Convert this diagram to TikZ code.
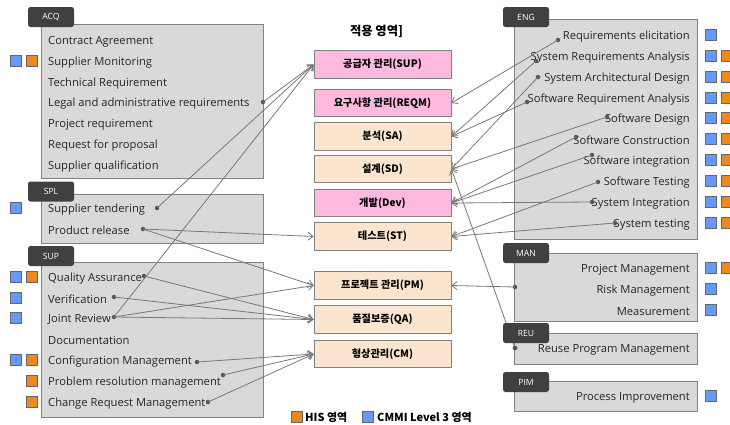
\documentclass[tikz,border=0pt]{standalone}
\usepackage{fontspec}
\setmainfont{Open Sans}
\newfontfamily\kr{Noto Sans CJK KR}
\usetikzlibrary{arrows.meta}
\definecolor{boxfill}{RGB}{217,217,217}
\definecolor{boxline}{RGB}{130,130,130}
\definecolor{tabfill}{RGB}{64,64,64}
\definecolor{pinkc}{RGB}{255,185,222}
\definecolor{peachc}{RGB}{252,229,206}
\definecolor{linec}{RGB}{120,120,120}
\definecolor{dotc}{RGB}{85,85,85}
\definecolor{bluec}{RGB}{102,153,255}
\definecolor{orangec}{RGB}{237,135,30}
\begin{document}
\begin{tikzpicture}[x=1pt,y=-1pt,
  grpbox/.style={draw=boxline,fill=boxfill,line width=0.9pt},
  tabbox/.style={fill=tabfill,rounded corners=2.5pt,text=white,font=\fontsize{8.6}{9}\selectfont,inner sep=0pt,minimum width=46pt,minimum height=20pt},
  litem/.style={anchor=west,inner sep=0pt,font=\fontsize{11.2}{13}\selectfont,text=black!85},
  ritem/.style={anchor=east,inner sep=0pt,font=\fontsize{11.2}{13}\selectfont,text=black!85},
  dotn/.style={circle,fill=dotc,inner sep=0pt,minimum size=4.5pt},
  cbox/.style={draw=boxline,line width=0.8pt,minimum width=137pt,minimum height=27.5pt,inner sep=0pt,font=\kr\bfseries\fontsize{10.2}{12}\selectfont},
  pinkbox/.style={cbox,fill=pinkc},
  peachbox/.style={cbox,fill=peachc},
  conn/.style={draw=linec,line width=0.8pt,-{Straight Barb[length=5pt,width=8pt]}},
  bsq/.style={draw=black!60,fill=bluec,minimum size=11pt,inner sep=0pt,line width=0.6pt},
  osq/.style={draw=black!60,fill=orangec,minimum size=11pt,inner sep=0pt,line width=0.6pt},
  legtext/.style={anchor=west,inner sep=0pt,font=\kr\bfseries\fontsize{11}{12}\selectfont}
]
\useasboundingbox (0,0) rectangle (730,424);
% group boxes
\node[grpbox,minimum width=222pt,minimum height=154pt,anchor=north west,inner sep=0pt] (acqbox) at (41,24) {};
\node[grpbox,minimum width=222pt,minimum height=49pt,anchor=north west,inner sep=0pt] (splbox) at (41,194) {};
\node[grpbox,minimum width=222pt,minimum height=155pt,anchor=north west,inner sep=0pt] (supbox) at (41,262) {};
\node[grpbox,minimum width=183pt,minimum height=220pt,anchor=north west,inner sep=0pt] (engbox) at (514,19) {};
\node[grpbox,minimum width=183pt,minimum height=68pt,anchor=north west,inner sep=0pt] (manbox) at (514,253) {};
\node[grpbox,minimum width=183pt,minimum height=31pt,anchor=north west,inner sep=0pt] (reubox) at (514,333) {};
\node[grpbox,minimum width=183pt,minimum height=30pt,anchor=north west,inner sep=0pt] (pimbox) at (514,381) {};
% items left
\node[litem] (i1) at (48,41.5) {Contract Agreement};
\node[litem] (i2) at (48,62.5) {Supplier Monitoring};
\node[litem] (i3) at (48,83.5) {Technical Requirement};
\node[litem] (i4) at (48,103.5) {Legal and administrative requirements};
\node[litem] (i5) at (48,124.5) {Project requirement};
\node[litem] (i6) at (48,145.5) {Request for proposal};
\node[litem] (i7) at (48,166.5) {Supplier qualification};
\node[litem] (s1) at (48,209.5) {Supplier tendering};
\node[litem] (s2) at (48,230.5) {Product release};
\node[litem] (u1) at (48,278.5) {Quality Assurance};
\node[litem] (u2) at (48,299.5) {Verification};
\node[litem] (u3) at (48,319.5) {Joint Review};
\node[litem] (u4) at (48,340.5) {Documentation};
\node[litem] (u5) at (48,361.5) {Configuration Management};
\node[litem] (u6) at (48,382.5) {Problem resolution management};
\node[litem] (u7) at (48,403.5) {Change Request Management};
% items right
\node[ritem] (e1) at (690,36.5) {Requirements elicitation};
\node[ritem] (e2) at (690,57.5) {System Requirements Analysis};
\node[ritem] (e3) at (690,78.5) {System Architectural Design};
\node[ritem] (e4) at (690,99.5) {Software Requirement Analysis};
\node[ritem] (e5) at (690,119.5) {Software Design};
\node[ritem] (e6) at (690,140.5) {Software Construction};
\node[ritem] (e7) at (690,161.5) {Software integration};
\node[ritem] (e8) at (690,182.5) {Software Testing};
\node[ritem] (e9) at (690,203.5) {System Integration};
\node[ritem] (e10) at (690,224.5) {System testing};
\node[ritem] (m1) at (690,269.5) {Project Management};
\node[ritem] (m2) at (690,290.5) {Risk Management};
\node[ritem] (m3) at (690,311.5) {Measurement};
\node[ritem] (r1) at (690,349.5) {Reuse Program Management};
\node[ritem] (p1) at (690,397.5) {Process Improvement};
% center boxes
\node[font=\kr\bfseries\fontsize{12.3}{14}\selectfont] (title) at (376.5,31) {적용 영역]};
\node[pinkbox] (csup) at (382.5,64.5) {공급자 관리(SUP)};
\node[pinkbox] (creqm) at (382.5,103) {요구사항 관리(REQM)};
\node[peachbox] (csa) at (382.5,136.5) {분석(SA)};
\node[peachbox] (csd) at (382.5,169) {설계(SD)};
\node[pinkbox] (cdev) at (382.5,203) {개발(Dev)};
\node[peachbox] (cst) at (382.5,236.5) {테스트(ST)};
\node[peachbox] (cpm) at (382.5,285.5) {프로젝트 관리(PM)};
\node[peachbox] (cqa) at (382.5,319.5) {품질보증(QA)};
\node[peachbox] (ccm) at (382.5,354) {형상관리(CM)};
% dots
\node[dotn] (dlegal) at (263,102) {};
\node[dotn] (dtend) at (157,208) {};
\node[dotn] (drel) at (143,229) {};
\node[dotn] (dqa) at (144,276) {};
\node[dotn] (dver) at (114,297) {};
\node[dotn] (djr) at (114,317) {};
\node[dotn] (dcm) at (197,362) {};
\node[dotn] (dpr) at (223,375) {};
\node[dotn] (dcrm) at (208,402) {};
\node[dotn] (dre) at (558,40) {};
\node[dotn] (dsra) at (536,61) {};
\node[dotn] (dsad) at (538,77) {};
\node[dotn] (dswra) at (527,102) {};
\node[dotn] (dswd) at (607,117) {};
\node[dotn] (dsc) at (576,137) {};
\node[dotn] (dsi) at (592,155) {};
\node[dotn] (dst) at (598,182) {};
\node[dotn] (dsysi) at (592,202) {};
\node[dotn] (dsyst) at (615,223) {};
\node[dotn] (dman) at (515,287) {};
\node[dotn] (dreu) at (515,348) {};
% connectors
\draw[conn] (dlegal.center) -- (csup.west);
\draw[conn] (dtend.center) -- (csup.west);
\draw[conn] (djr.center) -- (csup.west);
\draw[conn] (drel.center) -- (cst.west);
\draw[conn] (drel.center) -- (cpm.west);
\draw[conn] (djr.center) -- (cpm.west);
\draw[conn] (dqa.center) -- (cqa.west);
\draw[conn] (dver.center) -- (cqa.west);
\draw[conn] (djr.center) -- (cqa.west);
\draw[conn] (dcm.center) -- (ccm.west);
\draw[conn] (dpr.center) -- (ccm.west);
\draw[conn] (dcrm.center) -- (ccm.west);
\draw[conn] (dre.center) -- (creqm.east);
\draw[conn] (dsra.center) -- (csa.east);
\draw[conn] (dswra.center) -- (csa.east);
\draw[conn] (dsad.center) -- (csd.east);
\draw[conn] (dswd.center) -- (csd.east);
\draw[conn] (dreu.center) -- (csd.east);
\draw[conn] (dsc.center) -- (cdev.east);
\draw[conn] (dsi.center) -- (cdev.east);
\draw[conn] (dsysi.center) -- (cdev.east);
\draw[conn] (dst.center) -- (cst.east);
\draw[conn] (dsyst.center) -- (cst.east);
\draw[conn] (dman.center) -- (cpm.east);
% tabs
\node[tabbox] (tacq) at (51,17) {ACQ};
\node[tabbox] (tspl) at (51,191.5) {SPL};
\node[tabbox] (tsup) at (51,256) {SUP};
\node[tabbox] (teng) at (526,17) {ENG};
\node[tabbox] (tman) at (526,253) {MAN};
\node[tabbox] (treu) at (526,333) {REU};
\node[tabbox] (tpim) at (526,382) {PIM};
% redraw dot on top of tab
\node[dotn] at (dreu) {};
% left squares
\node[bsq] (q1) at (16,61) {}; \node[osq] (q2) at (31.5,61) {};
\node[bsq] (q3) at (16,208) {};
\node[bsq] (q4) at (16,277) {}; \node[osq] (q5) at (31.5,277) {};
\node[bsq] (q6) at (16,298) {};
\node[bsq] (q7) at (16,318) {};
\node[bsq] (q8) at (16,360) {}; \node[osq] (q9) at (31.5,360) {};
\node[osq] (q10) at (31.5,381) {};
\node[osq] (q11) at (31.5,402) {};
% right squares
\node[bsq] (r01) at (711,35) {};
\foreach \yy [count=\k] in {56,77,98,118,139,160,181,202,223}{
  \node[bsq] (rb\k) at (711,\yy) {}; \node[osq] (ro\k) at (726.5,\yy) {};
}
\node[bsq] (rm1) at (711,268) {}; \node[osq] (rm2) at (726.5,268) {};
\node[bsq] (rm3) at (711,289) {};
\node[bsq] (rm4) at (711,310) {};
\node[bsq] (rp1) at (711,396) {};
% legend
\node[osq] (lg1) at (296.5,417) {};
\node[legtext] (lt1) at (305,417) {HIS 영역};
\node[bsq] (lg2) at (367.5,417) {};
\node[legtext] (lt2) at (377,417) {CMMI Level 3 영역};
\end{tikzpicture}
\end{document}
